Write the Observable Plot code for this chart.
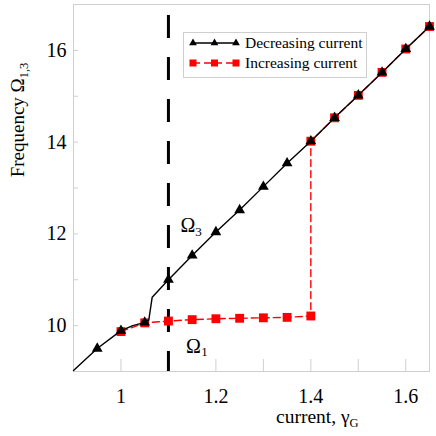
<!DOCTYPE html>
<html>
<head>
<meta charset="utf-8">
<script src="https://cdn.jsdelivr.net/npm/d3@7"></script>
<script src="https://cdn.jsdelivr.net/npm/@observablehq/plot@0.6"></script>
<style>
  html, body { margin: 0; padding: 0; background: #fff; }
  svg { display: block; }
</style>
</head>
<body>
<div id="chart"></div>
<script>
// ---- data ----
const decX = [0.95, 1.0, 1.05, 1.1, 1.15, 1.2, 1.25, 1.3, 1.35, 1.4, 1.45, 1.5, 1.55, 1.6, 1.65];
const decY = [9.50, 9.89, 10.07, 11.0, 11.53, 12.04, 12.52, 13.03, 13.54, 14.02, 14.53, 15.02, 15.52, 16.03, 16.52];
// solid curve (includes the jump between the markers at 1.05 and 1.1)
const decLineX = [0.9, 0.95, 1.0, 1.025, 1.05, 1.0586, 1.0658, 1.1, 1.15, 1.2, 1.25, 1.3, 1.35, 1.4, 1.45, 1.5, 1.55, 1.6, 1.65];
const decLineY = [9.02, 9.50, 9.89, 10.0, 10.07, 10.12, 10.62, 11.0, 11.53, 12.04, 12.52, 13.03, 13.54, 14.02, 14.53, 15.02, 15.52, 16.03, 16.52];
const incX = [1.0, 1.05, 1.1, 1.15, 1.2, 1.25, 1.3, 1.35, 1.4, 1.4, 1.45, 1.5, 1.55, 1.6, 1.65];
const incY = [9.87, 10.06, 10.10, 10.13, 10.15, 10.16, 10.17, 10.18, 10.21, 14.02, 14.53, 15.02, 15.52, 16.03, 16.52];
const thresholdX = [1.1];
const xTickLabels = [1, 1.2, 1.4, 1.6];
const xMinorTicks = [1.0, 1.1, 1.2, 1.3, 1.4, 1.5, 1.6];
const yTickLabels = [10, 12, 14, 16];
const yMinorTicks = [10, 11, 12, 13, 14, 15, 16];
const annotations = [
  {x: 1.141, y: 12.19, text: "Ω", size: 20},
  {x: 1.1636, y: 12.04, text: "3", size: 13},
  {x: 1.1526, y: 9.55, text: "Ω", size: 20},
  {x: 1.1758, y: 9.42, text: "1", size: 13}
];
const seriesNames = ["Decreasing current", "Increasing current"];

const dec = decX.map((x, i) => ({x, y: decY[i]}));
const decLine = decLineX.map((x, i) => ({x, y: decLineY[i]}));
const inc = incX.map((x, i) => ({x, y: incY[i]}));

const FONT = "Liberation Serif, Times New Roman, serif";
const GRAY = "#cfcfcf";

const svg = Plot.plot({
  width: 436,
  height: 436,
  marginLeft: 73,
  marginRight: 7,
  marginTop: 4,
  marginBottom: 65,
  style: `font-family: ${FONT}; background: #fff; color: #000;`,
  x: {domain: [0.9, 1.65]},
  y: {domain: [9, 17]},
  marks: [
    Plot.frame({stroke: GRAY}),
    Plot.axisX(xMinorTicks, {tickSize: -12, tickFormat: () => "", stroke: GRAY, label: null}),
    Plot.axisY(yMinorTicks, {tickSize: -5, tickFormat: () => "", stroke: GRAY, label: null}),
    Plot.axisX(xTickLabels, {tickSize: 0, tickPadding: 17, fontSize: 20, fontFamily: FONT, tickFormat: d => String(d), label: null}),
    Plot.axisY(yTickLabels, {tickSize: 0, tickPadding: 7, fontSize: 20, fontFamily: FONT, tickFormat: d => String(d), label: null}),
    Plot.ruleX(thresholdX, {stroke: "#000", strokeWidth: 3, strokeDasharray: "23,19", strokeDashoffset: 31}),
    Plot.line(inc, {x: "x", y: "y", stroke: "#ff0000", strokeWidth: 1.4, strokeDasharray: "7,4"}),
    Plot.dot(inc, {x: "x", y: "y", symbol: "square", r: 5, fill: "#ff0000", stroke: "none"}),
    Plot.line(decLine, {x: "x", y: "y", stroke: "#000", strokeWidth: 1.4}),
    Plot.dot(dec, {x: "x", y: "y", symbol: "triangle", r: 4, fill: "#000", stroke: "none"}),
    Plot.text(annotations, {x: "x", y: "y", text: "text", fontSize: d => d.size, fontFamily: FONT, textAnchor: "middle", lineAnchor: "middle", fill: "#000"})
  ]
});

const root = d3.select(svg);
// y-axis title
const yt = root.append("text")
  .attr("transform", "translate(24,120) rotate(-90)")
  .attr("text-anchor", "middle")
  .attr("font-size", 19)
  .attr("font-family", FONT)
  .attr("fill", "#000");
yt.append("tspan").text("Frequency Ω");
yt.append("tspan").attr("font-size", 12.5).attr("dy", 4).text("1,3");

// x-axis title
const xt = root.append("text")
  .attr("x", 276).attr("y", 423)
  .attr("text-anchor", "start")
  .attr("font-size", 19.5)
  .attr("font-family", FONT)
  .attr("fill", "#000");
xt.append("tspan").text("current, γ");
xt.append("tspan").attr("font-size", 12.5).attr("dy", 4).text("G");

// legend
const lg = root.append("g").attr("font-family", FONT).attr("text-anchor", "start");
lg.append("rect").attr("x", 183.5).attr("y", 32.5).attr("width", 183).attr("height", 45)
  .attr("fill", "#fff").attr("stroke", GRAY);
const sym = d3.symbol();
// row 1
lg.append("line").attr("x1", 192).attr("x2", 237).attr("y1", 43).attr("y2", 43).attr("stroke", "#000").attr("stroke-width", 1.4);
[193, 214.5, 236].forEach(cx => lg.append("path").attr("d", sym.type(d3.symbolTriangle).size(26)()).attr("transform", `translate(${cx},43)`).attr("fill", "#000"));
lg.append("text").attr("x", 245).attr("y", 48).attr("font-size", 15.5).attr("fill", "#000").text(seriesNames[0]);
// row 2
lg.append("line").attr("x1", 193).attr("x2", 237).attr("y1", 63).attr("y2", 63).attr("stroke", "#ff0000").attr("stroke-width", 1.4).attr("stroke-dasharray", "7,4");
[193, 214.5, 236].forEach(cx => lg.append("rect").attr("x", cx - 3.5).attr("y", 59.5).attr("width", 7).attr("height", 7).attr("fill", "#ff0000"));
lg.append("text").attr("x", 245).attr("y", 68).attr("font-size", 15.5).attr("fill", "#000").text(seriesNames[1]);

document.getElementById("chart").appendChild(svg);
</script>
</body>
</html>
